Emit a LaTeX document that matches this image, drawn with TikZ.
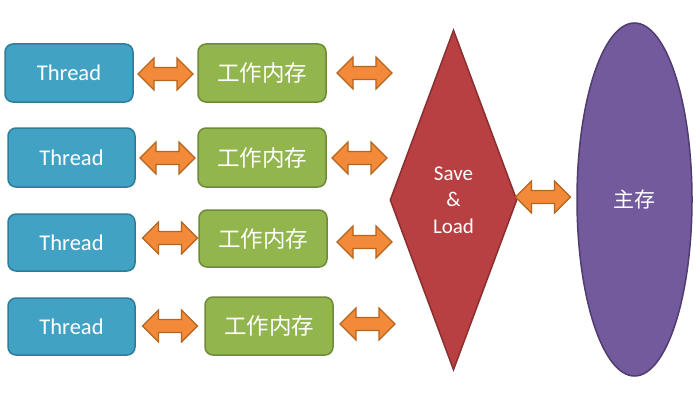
\documentclass[tikz,border=0pt]{standalone}
\usepackage{fontspec}
\setmainfont{Carlito}
\newfontfamily\cjk{Noto Sans CJK SC}
\usetikzlibrary{shapes.geometric}
\definecolor{tblue}{HTML}{42A2C4}
\definecolor{tblueD}{HTML}{2E7D99}
\definecolor{wgreen}{HTML}{92B54E}
\definecolor{wgreenD}{HTML}{6E8B37}
\definecolor{aor}{HTML}{F28A3A}
\definecolor{aorD}{HTML}{B5651E}
\definecolor{sred}{HTML}{B94042}
\definecolor{sredD}{HTML}{8A2E2F}
\definecolor{mpur}{HTML}{735A9C}
\definecolor{mpurD}{HTML}{4F3D70}
\tikzset{
  box/.style={rectangle, rounded corners=8pt, line width=1.5pt, inner sep=0pt},
  thread/.style={box, fill=tblue, draw=tblueD, text=white, font=\fontsize{22.5}{26}\selectfont},
  work/.style={box, fill=wgreen, draw=wgreenD, text=white, font=\cjk\fontsize{22.5}{26}\selectfont},
  blockarrow/.style={fill=aor, draw=aorD, line width=1.2pt, line join=miter},
  dbl/.pic={\path[blockarrow] (-27.5,0) -- (-11.5,-16) -- (-11.5,-6.5) -- (11.5,-6.5) -- (11.5,-16)
     -- (27.5,0) -- (11.5,16) -- (11.5,6.5) -- (-11.5,6.5) -- (-11.5,16) -- cycle;
     \coordinate (-c) at (0,0);},
}
\begin{document}
\begin{tikzpicture}[x=1pt,y=-1pt]
\useasboundingbox[fill=white] (0,0) rectangle (700,412);
% threads
\node[thread, minimum width=128pt, minimum height=58pt] (t1) at (69,73) {Thread};
\node[thread, minimum width=127pt, minimum height=59pt] (t2) at (71.5,157.5) {Thread};
\node[thread, minimum width=127pt, minimum height=57pt] (t3) at (71.5,242.5) {Thread};
\node[thread, minimum width=127pt, minimum height=57pt] (t4) at (71.5,326.5) {Thread};
% working memory
\node[work, minimum width=128pt, minimum height=58pt] (w1) at (262,73) {工作内存};
\node[work, minimum width=128pt, minimum height=59pt] (w2) at (262,157.5) {工作内存};
\node[work, minimum width=128pt, minimum height=57pt] (w3) at (263,238.5) {工作内存};
\node[work, minimum width=128pt, minimum height=58pt] (w4) at (269,326) {工作内存};
% save & load
\node[diamond, fill=sred, draw=sredD, line width=1.5pt, inner sep=0pt,
      minimum width=127pt, minimum height=340pt, text=white, align=center,
      font=\fontsize{21}{26.5}\selectfont] (sl) at (453.5,200) {Save\\\&\\Load};
% main memory
\node[ellipse, fill=mpur, draw=mpurD, line width=1.5pt, inner sep=0pt,
      minimum width=115pt, minimum height=353pt, text=white,
      font=\cjk\fontsize{21}{25}\selectfont] (mm) at (634.5,199.5) {主存};
% block arrows
\pic (a1l) at (165.5,74) {dbl};
\pic (a1r) at (364.5,73) {dbl};
\pic (a2l) at (167.5,158) {dbl};
\pic (a2r) at (359.5,158) {dbl};
\pic (a3l) at (170,238) {dbl};
\pic (a3r) at (364.5,242) {dbl};
\pic (a4l) at (170,326) {dbl};
\pic (a4r) at (367.5,324) {dbl};
\pic (am) at (543,197) {dbl};
\end{tikzpicture}
\end{document}
